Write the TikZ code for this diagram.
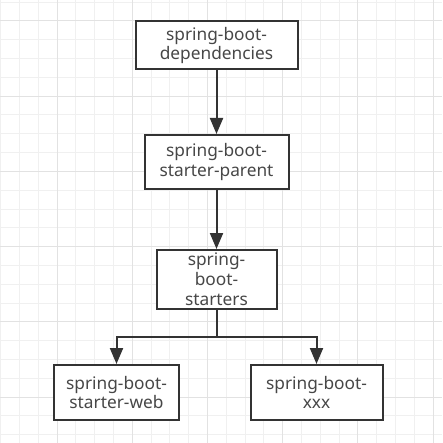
\documentclass[tikz,border=0pt]{standalone}
\usepackage{fontspec}
\setmainfont{Noto Sans}
\usetikzlibrary{arrows.meta}
\definecolor{gridminor}{HTML}{F0F0F0}
\definecolor{gridmajor}{HTML}{E2E2E2}
\definecolor{ink}{HTML}{333333}

\begin{document}
\begin{tikzpicture}[x=1pt,y=-1pt,
    box/.style={draw=ink,line width=2pt,fill=white,text=ink!90,align=center,
      font=\fontsize{17.3}{19.8}\selectfont,inner sep=0pt},
    link/.style={draw=ink,line width=2pt,-{Triangle[length=16pt,width=13pt]}}]
  \useasboundingbox (0,0) rectangle (442,443);
  \foreach \i in {0,...,23} {
    \draw[gridminor,line width=1pt] (0.6+18.8*\i,0) -- (0.6+18.8*\i,443);
    \draw[gridminor,line width=1pt] (0,2.2+18.8*\i) -- (442,2.2+18.8*\i);
  }
  \foreach \i in {0,...,5} {
    \draw[gridmajor,line width=1pt] (57+75.2*\i,0) -- (57+75.2*\i,443);
    \draw[gridmajor,line width=1pt] (0,21+75.2*\i) -- (442,21+75.2*\i);
  }

  \node[box,minimum width=162,minimum height=48] (deps) at (216.5,45.5) {spring-boot-\\dependencies};
  \node[box,minimum width=144,minimum height=54] (parent) at (216.5,162) {spring-boot-\\starter-parent};
  \node[box,minimum width=120,minimum height=59] (starters) at (216.5,279.5) {spring-\\boot-\\starters};
  \node[box,minimum width=125,minimum height=55] (web) at (116.5,392.5) {spring-boot-\\starter-web};
  \node[box,minimum width=132,minimum height=55] (xxx) at (316.5,392.5) {spring-boot-\\xxx};

  \coordinate (split) at (216.5,336.7);

  \draw[link] (deps) -- (parent);
  \draw[link] (parent) -- (starters);
  \draw[link] (starters.south) -- (split) -| (web.north);
  \draw[link] (split) -| (xxx.north);
\end{tikzpicture}
\end{document}
